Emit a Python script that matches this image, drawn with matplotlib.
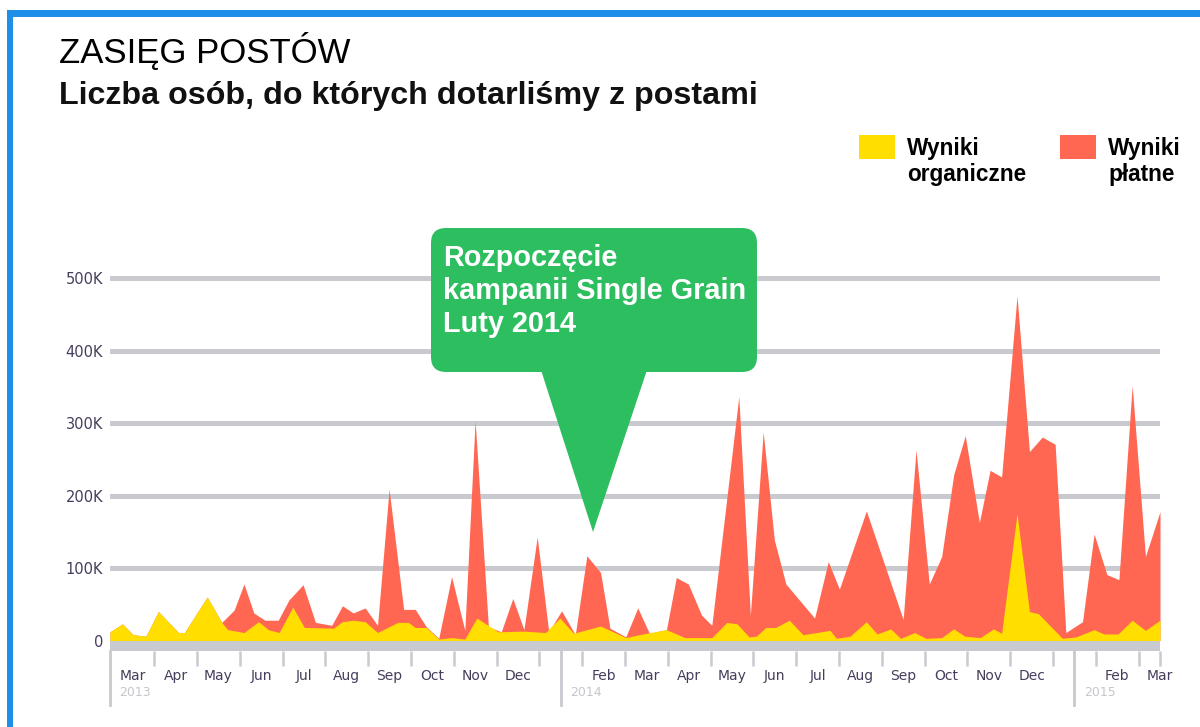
import matplotlib
matplotlib.use("Agg")
import numpy as np
import matplotlib.pyplot as plt
from matplotlib.patches import FancyBboxPatch, Polygon, Rectangle
from matplotlib.transforms import IdentityTransform

plt.rcParams['font.family'] = ['Liberation Sans', 'DejaVu Sans']

# x axis in months: 0 = Mar 2013 ... 24 = Mar 2015
month_labels = ["Mar", "Apr", "May", "Jun", "Jul", "Aug", "Sep", "Oct", "Nov", "Dec", "",
                "Feb", "Mar", "Apr", "May", "Jun", "Jul", "Aug", "Sep", "Oct", "Nov", "Dec", "",
                "Feb", "Mar"]
years = ["2013", "2014", "2015"]
year_pos = [-0.53, 10, 22]

# top of the red area (organic + paid), thousands
total_t = [-0.53, -0.24, 0.01, 0.31, 0.60, 1.07, 1.21, 1.74, 2.08, 2.37, 2.60, 2.83, 3.09, 3.40,
           3.65, 3.98, 4.27, 4.65, 4.90, 5.15, 5.43, 5.72, 5.99, 6.33, 6.60, 6.86, 7.15, 7.45,
           7.76, 8.00, 8.31, 8.61, 8.88, 9.14, 9.45, 9.72, 10.02, 10.34, 10.61, 10.93, 11.15,
           11.52, 11.80, 12.07, 12.47, 12.70, 12.98, 13.29, 13.53, 14.16, 14.43, 14.73, 14.99,
           15.26, 15.93, 16.25, 16.51, 17.14, 18.00, 18.30, 18.61, 18.90, 19.18, 19.45, 19.78,
           20.03, 20.30, 20.66, 20.95, 21.25, 21.55, 21.80, 22.19, 22.46, 22.76, 23.04, 23.35,
           23.66, 24.00]
total_k = [12, 23, 8, 6, 40, 11, 11, 60, 25, 42, 78, 38, 28, 28,
           56, 77, 25, 21, 48, 38, 45, 21, 209, 43, 43, 19, 3, 88,
           14, 304, 19, 12, 58, 15, 143, 12, 41, 8, 117, 94, 17,
           5, 45, 10, 15, 87, 78, 35, 21, 337, 35, 288, 139,
           78, 31, 109, 71, 179, 29, 263, 78, 116, 229, 283, 163,
           235, 226, 476, 261, 281, 271, 11, 26, 147, 91, 84, 352,
           116, 178]

# organic reach, thousands
organic_t = [-0.53, -0.24, 0.01, 0.31, 0.60, 1.07, 1.21, 1.74, 2.08, 2.22, 2.60, 2.94, 3.17, 3.42,
             3.74, 4.01, 4.69, 4.90, 5.15, 5.43, 5.72, 6.19, 6.44, 6.60, 6.86, 7.15, 7.45, 7.76,
             8.04, 8.54, 9.14, 9.64, 9.98, 10.30, 10.93, 11.52, 11.83, 12.47, 12.90, 13.53, 13.88,
             14.12, 14.40, 14.57, 14.79, 15.02, 15.34, 15.66, 16.29, 16.44, 16.76, 17.14, 17.39,
             17.71, 17.94, 18.27, 18.53, 18.90, 19.18, 19.44, 19.80, 20.11, 20.30, 20.66, 20.95,
             21.16, 21.72, 22.04, 22.46, 22.69, 23.02, 23.35, 23.66, 24.00]
organic_k = [12, 23, 8, 6, 40, 11, 11, 60, 25, 15, 11, 26, 15, 11,
             46, 18, 17, 26, 28, 26, 11, 25, 25, 18, 18, 2, 4, 2,
             31, 12, 13, 11, 31, 10, 20, 4, 8, 15, 4, 4, 25,
             23, 5, 6, 18, 18, 28, 8, 14, 3, 6, 26, 9,
             16, 3, 11, 3, 4, 16, 6, 4, 16, 10, 175, 40,
             37, 3, 5, 15, 9, 9, 28, 14, 28]

y_ticks = [0, 100, 200, 300, 400, 500]
y_labels = ["0", "100K", "200K", "300K", "400K", "500K"]

title = "ZASIĘG POSTÓW"
subtitle = "Liczba osób, do których dotarliśmy z postami"
legend_labels = ["Wyniki\norganiczne", "Wyniki\npłatne"]
callout_lines = ["Rozpoczęcie", "kampanii Single Grain", "Luty 2014"]

yellow = "#FFDE00"
red = "#FF6753"
green = "#2DBE60"
grid_c = "#C9CACF"
label_c = "#463D5C"

W, H = 1200, 727
fig = plt.figure(figsize=(W / 100, H / 100), dpi=100)
fig.patch.set_facecolor("white")


def fx(px):
    return px / W


def fy(py):
    return 1 - py / H


ax = fig.add_axes([fx(110), fy(651), fx(1050), 387 / H])
ax.set_xlim(-0.53, 24)
ax.set_ylim(-14.5, 520)
for s in ax.spines.values():
    s.set_visible(False)

for v in y_ticks[1:]:
    ax.axhline(v, color=grid_c, lw=3.6, zorder=0)
ax.axhspan(-14.5, 0, color=grid_c, lw=0, zorder=0)

ax.fill_between(total_t, total_k, color=red, lw=0, zorder=2)
ax.fill_between(organic_t, organic_k, color=yellow, lw=0, zorder=3)

# ticks between months, labels on the months
ax.xaxis.remove_overlapping_locs = False
ax.set_xticks(list(np.arange(0.5, 24, 1)) + [24])
ax.set_xticklabels([])
ax.set_xticks(range(len(month_labels)), minor=True)
ax.set_xticklabels(month_labels, minor=True, fontfamily="DejaVu Sans", fontsize=10, color=label_c)
ax.tick_params(axis="x", which="major", length=10.5, width=1.8, color=grid_c, direction="out")
ax.tick_params(axis="x", which="minor", length=0, pad=13)

ax.set_yticks(y_ticks)
ax.set_yticklabels(y_labels, fontfamily="DejaVu Sans", fontsize=10.5, color=label_c)
ax.tick_params(axis="y", length=0, pad=5)

xt = ax.get_xaxis_transform()
for p, yr in zip(year_pos, years):
    ax.plot([p, p], [0, -0.14], transform=xt, color=grid_c, lw=2, clip_on=False)
    ax.text(p + 0.22, -0.108, yr, transform=xt, ha="left", va="center",
            fontfamily="DejaVu Sans", fontsize=9, color="#C6C6CC")

# titles
fig.text(fx(59), fy(63), title, fontsize=25, color="black", va="baseline")
fig.text(fx(59), fy(104), subtitle, fontsize=23.2, fontweight="bold", color="#111111",
         va="baseline")

# legend
for x0, c, lab in zip([859, 1060], [yellow, red], legend_labels):
    fig.add_artist(Rectangle((fx(x0), fy(159)), fx(36), 24 / H, color=c, lw=0,
                             transform=fig.transFigure))
    fig.text(fx(x0 + 48), fy(137), lab, fontsize=16.3, fontweight="bold", color="black",
             va="top", linespacing=1.15)

# callout
idt = IdentityTransform()
box = FancyBboxPatch((431, H - 372), 326, 144, boxstyle="round,pad=0,rounding_size=15",
                     facecolor=green, edgecolor="none", transform=idt)
fig.add_artist(box)
tip = Polygon([(541, H - 370), (647, H - 370), (593, H - 532)], closed=True,
              facecolor=green, edgecolor="none", transform=idt)
fig.add_artist(tip)
for i, line in enumerate(callout_lines):
    fig.text(fx(443), fy(266 + i * 33), line, fontsize=20.8, fontweight="bold", color="white",
             va="baseline")

# frame
blue = "#1E8FE8"
fig.add_artist(Rectangle((fx(7), fy(17)), 1, 7 / H, color=blue, lw=0, transform=fig.transFigure))
fig.add_artist(Rectangle((fx(7), 0), fx(6), fy(10), color=blue, lw=0, transform=fig.transFigure))

fig.savefig("out.png", dpi=100)
